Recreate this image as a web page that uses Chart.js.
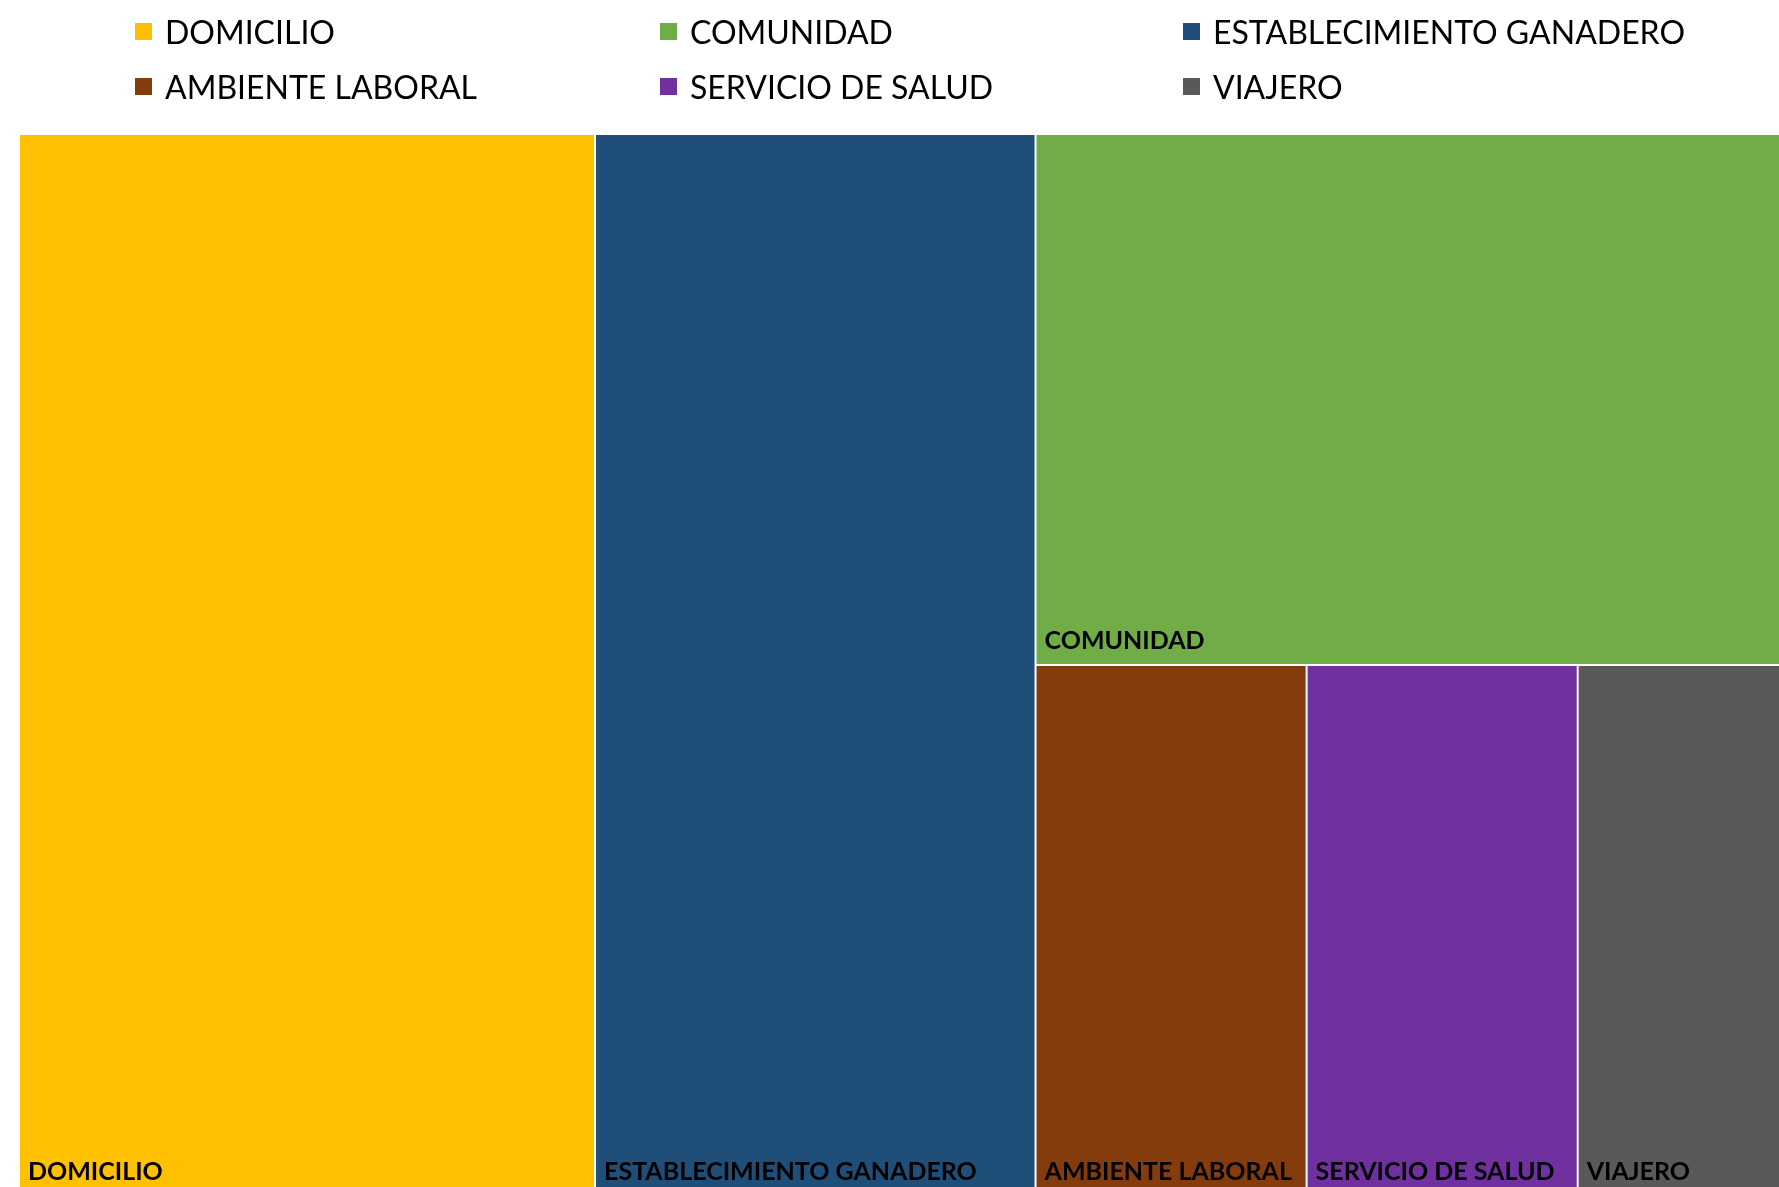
<!DOCTYPE html>
<html>
<head>
<meta charset="utf-8">
<title>Treemap</title>
<script src="https://cdn.jsdelivr.net/npm/chart.js@4.4.0/dist/chart.umd.min.js"></script>
<style>
  html, body { margin: 0; padding: 0; background: #fff; overflow: hidden; width: 1779px; height: 1187px; }
  #wrap { position: absolute; left: 0; top: 0; width: 1781px; height: 1196px; }
  #legend { position: absolute; left: 0; top: 0; width: 1779px; height: 120px; font-family: Lato, sans-serif; font-size: 32px; color: #000; }
  .item { position: absolute; display: flex; align-items: center; height: 40px; white-space: nowrap; }
  .box { width: 17px; height: 17px; margin-right: 13px; flex: none; }
</style>
</head>
<body>
<div id="wrap"><canvas id="treemap" width="1781" height="1196"></canvas></div>
<div id="legend"></div>
<script>
// categorías en el orden de la leyenda (por columnas)
const categories = ['DOMICILIO', 'AMBIENTE LABORAL', 'COMUNIDAD', 'SERVICIO DE SALUD', 'ESTABLECIMIENTO GANADERO', 'VIAJERO'];
const casos = [17, 4, 11, 4, 13, 3];
const colores = ['#FFC000', '#843C0C', '#70AD47', '#7030A0', '#1F4E79', '#595959'];

// orden de mayor a menor, como lo ordena el treemap
const orden = categories.map((c, i) => i).sort((a, b) => casos[b] - casos[a]);

// estructura de cortes (por rango): h = columnas, v = filas
const arbol = { dir: 'h', hijos: [0, 1, { dir: 'v', hijos: [2, { dir: 'h', hijos: [3, 4, 5] }] }] };

function suma(n) {
  if (typeof n === 'number') return casos[orden[n]];
  return n.hijos.reduce((a, h) => a + suma(h), 0);
}

// reparte el rectángulo [x0,x1]x[y0,y1] (unidades de datos) según los valores
function repartir(n, x0, y0, x1, y1, out) {
  if (typeof n === 'number') {
    out.push({ idx: orden[n], x0, y0, x1, y1 });
    return out;
  }
  const total = suma(n);
  let pos = n.dir === 'h' ? x0 : y0;
  n.hijos.forEach(h => {
    const f = suma(h) / total;
    if (n.dir === 'h') {
      const w = (x1 - x0) * f;
      repartir(h, pos, y0, pos + w, y1, out);
      pos += w;
    } else {
      const hh = (y1 - y0) * f;
      repartir(h, x0, pos, x1, pos + hh, out);
      pos += hh;
    }
  });
  return out;
}

const rects = repartir(arbol, 0, 0, 1, 1, []);

const treemapPlugin = {
  id: 'treemapRects',
  afterDatasetsDraw(chart) {
    const ctx = chart.ctx;
    const sx = chart.scales.x, sy = chart.scales.y;
    ctx.save();
    rects.forEach(r => {
      const left = sx.getPixelForValue(r.x0), right = sx.getPixelForValue(r.x1);
      const top = sy.getPixelForValue(r.y0), bottom = sy.getPixelForValue(r.y1);
      // separación blanca de 2px entre rectángulos
      ctx.fillStyle = colores[r.idx];
      ctx.fillRect(left + 1, top + 1, right - left - 2, bottom - top - 2);
      ctx.fillStyle = '#000000';
      ctx.font = 'bold 25px Lato';
      ctx.textBaseline = 'alphabetic';
      ctx.textAlign = 'left';
      ctx.fillText(categories[r.idx], left + 9, bottom - 16);
    });
    ctx.restore();
  }
};

new Chart(document.getElementById('treemap'), {
  type: 'scatter',
  data: {
    labels: categories,
    datasets: [{ label: 'Casos', data: [], backgroundColor: colores }]
  },
  options: {
    responsive: false,
    devicePixelRatio: 1,
    animation: false,
    layout: { padding: { left: 19, top: 134, right: 0, bottom: 0 } },
    scales: {
      x: { type: 'linear', min: 0, max: 1, display: false },
      y: { type: 'linear', min: 0, max: 1, reverse: true, display: false }
    },
    plugins: {
      legend: { display: false },
      tooltip: { enabled: false }
    }
  },
  plugins: [treemapPlugin]
});

// leyenda: 3 columnas x 2 filas, llenada por columnas
const colX = [135, 660, 1183];
const filaY = [11, 66];
const leyenda = document.getElementById('legend');
categories.forEach((c, i) => {
  const it = document.createElement('div');
  it.className = 'item';
  it.style.left = colX[Math.floor(i / 2)] + 'px';
  it.style.top = filaY[i % 2] + 'px';
  it.innerHTML = '<span class="box" style="background:' + colores[i] + '"></span><span>' + c + '</span>';
  leyenda.appendChild(it);
});
</script>
</body>
</html>
